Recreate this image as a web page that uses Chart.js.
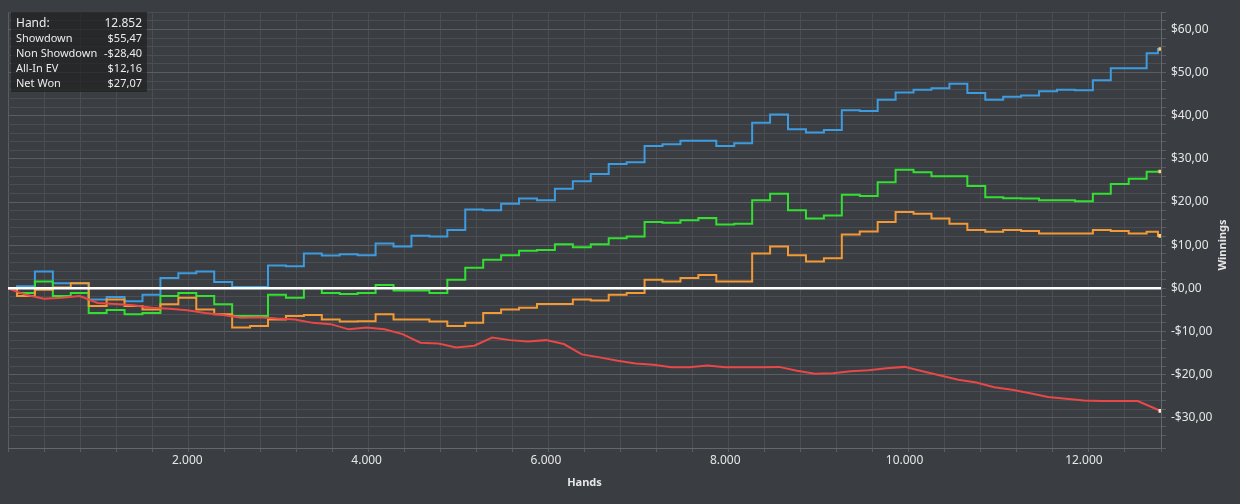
<!DOCTYPE html>
<html>
<head>
<meta charset="utf-8">
<script src="https://cdn.jsdelivr.net/npm/chart.js@4.4.1/dist/chart.umd.min.js"></script>
<style>
    html, body { margin: 0; padding: 0; background: #3a3d41; }
    #wrap { position: relative; width: 1240px; height: 504px; }
    #stats {
        position: absolute; left: 11px; top: 12px; width: 136px; height: 80px;
        background: rgba(30, 31, 33, 0.7);
        font-family: "Noto Sans", sans-serif; color: #ececec;
        box-sizing: border-box; padding: 3px 5px 0 5px;
    }
    #stats .row { display: flex; justify-content: space-between; font-size: 11px; height: 15px; line-height: 15px; }
    #stats .row.first { font-size: 12px; }
</style>
</head>
<body>
<div id="wrap">
    <canvas id="chart" width="1240" height="504"></canvas>
    <div id="stats"></div>
</div>
<script>
// 数据
const hands = [0, 200, 400, 600, 800, 1000, 1200, 1400, 1600, 1800, 2000, 2200, 2400, 2600, 2800, 3000,
    3200, 3400, 3600, 3800, 4000, 4200, 4400, 4600, 4800, 5000, 5200, 5400, 5600, 5800, 6000, 6200,
    6400, 6600, 6800, 7000, 7200, 7400, 7600, 7800, 8000, 8200, 8400, 8600, 8800, 9000, 9200, 9400,
    9600, 9800, 10000, 10200, 10400, 10600, 10800, 11000, 11200, 11400, 11600, 11800, 12000, 12200,
    12400, 12600, 12800, 12852];

const showdown = [0, 0.5, 3.9, 1.2, 1.2, -2.6, -2.0, -3.0, -1.5, 2.4, 3.5, 3.9, 1.5, 0.3, 0.3, 5.3,
    5.1, 8.1, 7.6, 7.9, 7.7, 10.4, 9.7, 12.2, 12.0, 13.5, 18.3, 18.1, 19.6, 20.8, 20.4, 23.1,
    24.8, 26.5, 28.8, 29.2, 33.0, 33.4, 34.2, 34.2, 33.0, 33.6, 38.4, 40.3, 36.9, 36.1, 36.7, 41.3,
    41.1, 43.7, 45.4, 46.0, 46.4, 47.4, 45.3, 43.7, 44.4, 44.7, 45.7, 46.0, 45.9, 48.2,
    51.0, 51.0, 54.5, 55.47];

const nonShowdown = [0, -1.5, -2.4, -2.2, -1.8, -3.4, -3.6, -3.9, -4.5, -4.7, -5.1, -5.7, -6.2, -6.8, -6.7, -7.0,
    -7.2, -8.0, -8.3, -9.5, -9.1, -9.5, -10.6, -12.6, -12.8, -13.7, -13.3, -11.4, -12.0, -12.3, -12.0, -12.9,
    -15.3, -16.0, -16.8, -17.4, -17.7, -18.3, -18.3, -17.9, -18.3, -18.3, -18.3, -18.2, -19.1, -19.8, -19.7, -19.2,
    -19.0, -18.5, -18.2, -19.2, -20.2, -21.2, -21.8, -22.9, -23.5, -24.3, -25.2, -25.6, -26.0, -26.1,
    -26.1, -26.1, -27.9, -28.40];

const allInEV = [0, -1.8, -0.3, 0.2, 1.2, -4.1, -2.6, -4.1, -4.9, -3.7, -2.2, -4.9, -6.0, -9.1, -8.7, -7.2,
    -6.4, -6.2, -7.2, -7.7, -7.6, -6.0, -7.2, -7.2, -7.7, -8.7, -8.0, -5.7, -4.9, -4.5, -3.6, -3.6,
    -2.6, -2.8, -1.5, -1.1, 2.0, 1.6, 2.4, 3.1, 1.6, 1.6, 8.1, 9.7, 7.7, 6.2, 7.0, 12.5,
    13.2, 15.4, 17.7, 17.3, 16.2, 15.0, 13.5, 13.1, 13.5, 13.3, 12.7, 12.7, 12.7, 13.5,
    13.3, 12.7, 13.1, 12.16];

const netWon = [0, -1.1, 1.6, -1.8, -1.1, -5.7, -5.0, -6.0, -5.7, -1.8, -1.1, -1.8, -3.7, -6.4, -6.4, -1.5,
    -2.2, 0.1, -1.1, -1.3, -1.1, 0.8, -0.5, -0.5, -1.1, 2.0, 4.8, 6.6, 7.7, 8.7, 8.9, 10.2,
    9.5, 10.2, 11.6, 12.0, 15.4, 15.2, 15.8, 16.3, 14.8, 15.0, 20.4, 21.9, 18.1, 16.2, 16.9, 21.7,
    21.4, 24.6, 27.5, 26.9, 26.0, 26.0, 23.7, 21.1, 20.9, 20.8, 20.4, 20.4, 20.2, 21.9,
    24.2, 25.4, 27.0, 27.07];

const xLabels = ['2.000', '4.000', '6.000', '8.000', '10.000', '12.000'];
const statLabels = ['Hand:', 'Showdown', 'Non Showdown', 'All-In EV', 'Net Won'];
const statValues = ['12.852', '$55,47', '-$28,40', '$12,16', '$27,07'];

// 统计框
const statsBox = document.getElementById('stats');
statLabels.forEach((label, i) => {
    const row = document.createElement('div');
    row.className = 'row' + (i === 0 ? ' first' : '');
    row.innerHTML = `<span>${label}</span><span>${statValues[i]}</span>`;
    statsBox.appendChild(row);
});

function toPoints(values) {
    return values.map((v, i) => ({ x: hands[i], y: v }));
}

function money(v) {
    const s = Math.abs(v).toFixed(2).replace('.', ',');
    return (v < 0 ? '-$' : '$') + s;
}

function lastPointRadius(ctx) {
    return ctx.dataIndex === ctx.dataset.data.length - 1 ? 2.5 : 0;
}

function series(values, color, stepped, endColor) {
    return {
        data: toPoints(values),
        borderColor: color,
        borderWidth: 2,
        stepped: stepped,
        tension: 0,
        pointStyle: 'rect',
        pointRadius: lastPointRadius,
        pointBackgroundColor: endColor,
        pointBorderWidth: 0
    };
}

// 轴标题和 x 轴标签
const axisText = {
    id: 'axisText',
    afterDraw(chart) {
        const ctx = chart.ctx;
        const area = chart.chartArea;
        const xScale = chart.scales.x;
        ctx.save();
        ctx.fillStyle = '#e6e6e6';
        ctx.textAlign = 'center';
        ctx.textBaseline = 'middle';
        ctx.font = '12px "Noto Sans", sans-serif';
        xLabels.forEach((label, i) => {
            ctx.fillText(label, xScale.getPixelForValue((i + 1) * 2000), area.bottom + 13);
        });
        ctx.font = 'bold 11px "Noto Sans", sans-serif';
        ctx.fillText('Hands', (area.left + area.right) / 2, 483);
        ctx.translate(1223, 245);
        ctx.rotate(-Math.PI / 2);
        ctx.fillText('Winnings', 0, 0);
        ctx.restore();
    }
};

const zeroLine = {
    data: [{ x: 0, y: 0 }, { x: 12860, y: 0 }],
    borderColor: '#ffffff',
    borderWidth: 2.5,
    pointRadius: 0
};

new Chart(document.getElementById('chart'), {
    type: 'line',
    data: {
        datasets: [
            zeroLine,
            series(nonShowdown, '#e84848', false, '#ffe6e6'),
            series(allInEV, '#f39a36', 'middle', '#ffd27a'),
            series(netWon, '#32e032', 'middle', '#ffd27a'),
            series(showdown, '#3d9be0', 'middle', '#ffc46a')
        ]
    },
    options: {
        responsive: false,
        animation: false,
        layout: { padding: { left: 8, top: 9, right: 0, bottom: 0 } },
        plugins: {
            legend: { display: false },
            tooltip: { enabled: false }
        },
        scales: {
            x: {
                type: 'linear',
                min: 0,
                max: 12860,
                afterFit(scale) { scale.height = 56; },
                ticks: {
                    stepSize: 400,
                    autoSkip: false,
                    display: false
                },
                grid: {
                    color: ctx => (ctx.tick && ctx.tick.value % 2000 === 0 ? '#5a5d61' : '#4a4d51'),
                    tickLength: 4,
                    tickColor: '#5a5d61'
                },
                border: { color: '#64676b' }
            },
            y: {
                position: 'right',
                min: -37,
                max: 64,
                afterFit(scale) { scale.width = 79; },
                ticks: {
                    stepSize: 2,
                    autoSkip: false,
                    padding: 5,
                    color: '#e6e6e6',
                    font: { family: 'Noto Sans', size: 12 },
                    callback: function(value) {
                        if (value % 10 !== 0) return '';
                        return money(value);
                    }
                },
                grid: {
                    color: ctx => (ctx.tick && ctx.tick.value % 10 === 0 ? '#5a5d61' : '#4a4d51'),
                    tickLength: 5,
                    tickColor: '#5a5d61'
                },
                border: { color: '#64676b' }
            }
        }
    },
    plugins: [axisText]
});
</script>
</body>
</html>
